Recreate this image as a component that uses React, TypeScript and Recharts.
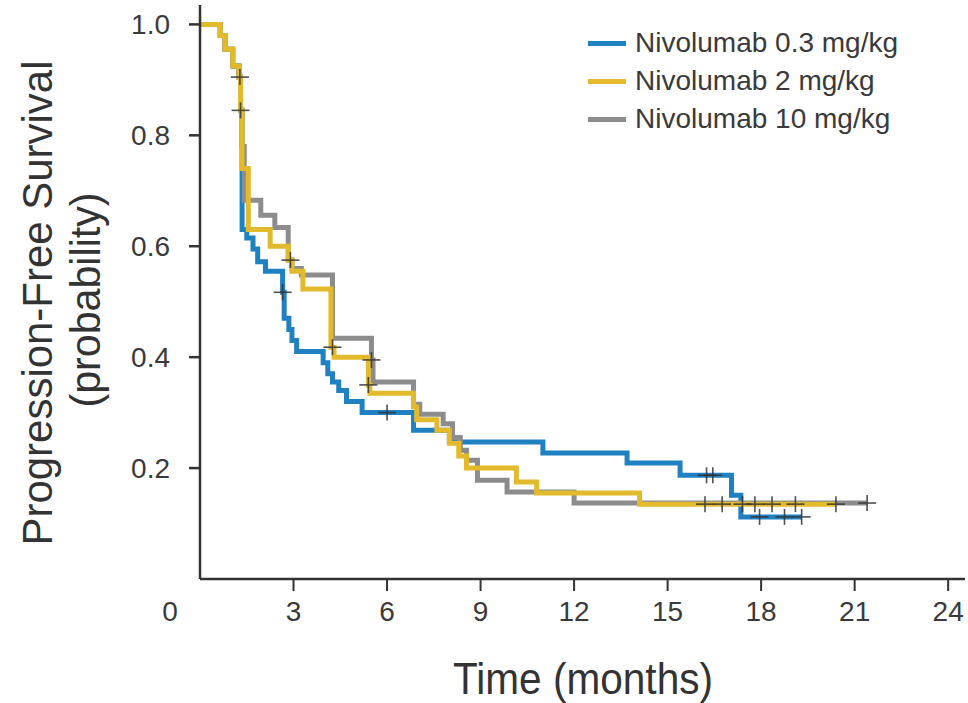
import React from "react";
import {
  ComposedChart,
  Line,
  Scatter,
  XAxis,
  YAxis,
  Legend,
} from "recharts";

// Kaplan-Meier steps: [month, probability]
const pfs03: [number, number][] = [
  [0, 1], [0.65, 0.98], [0.8, 0.955], [1.05, 0.925], [1.25, 0.905], [1.3, 0.845],
  [1.35, 0.63], [1.5, 0.615], [1.7, 0.595], [1.85, 0.572], [2.1, 0.555], [2.65, 0.517],
  [2.7, 0.47], [2.85, 0.45], [2.95, 0.43], [3.1, 0.41], [3.95, 0.39], [4.1, 0.37],
  [4.25, 0.355], [4.45, 0.34], [4.7, 0.32], [5.2, 0.3], [6.85, 0.268], [8.0, 0.247],
  [11.0, 0.227], [13.7, 0.209], [15.4, 0.187], [17.05, 0.151], [17.35, 0.112], [19.3, 0.112],
];
const pfs2: [number, number][] = [
  [0, 1], [0.65, 0.98], [0.8, 0.955], [1.05, 0.925], [1.25, 0.905], [1.3, 0.845],
  [1.35, 0.74], [1.55, 0.63], [2.25, 0.6], [2.83, 0.575], [2.95, 0.555], [3.3, 0.523],
  [4.2, 0.418], [4.3, 0.4], [5.4, 0.35], [5.45, 0.335], [6.85, 0.31], [6.95, 0.287],
  [7.6, 0.268], [8.0, 0.245], [8.3, 0.222], [8.55, 0.2], [10.15, 0.175], [10.8, 0.155],
  [14.1, 0.135], [20.4, 0.135],
];
const pfs10: [number, number][] = [
  [0, 1], [0.65, 0.98], [0.8, 0.955], [1.05, 0.925], [1.25, 0.905], [1.3, 0.845],
  [1.35, 0.78], [1.42, 0.683], [1.95, 0.656], [2.4, 0.634], [2.83, 0.575], [2.95, 0.56],
  [3.25, 0.548], [4.25, 0.434], [5.5, 0.395], [5.55, 0.355], [6.85, 0.315], [7.05, 0.297],
  [7.8, 0.28], [8.1, 0.255], [8.35, 0.232], [8.55, 0.214], [8.9, 0.178], [9.85, 0.157],
  [12.0, 0.137], [21.4, 0.137],
];

// censored observations (tick marks)
const cens03: [number, number][] = [
  [2.65, 0.517], [6.0, 0.3], [16.25, 0.187], [16.45, 0.187], [17.95, 0.112], [18.75, 0.112], [19.3, 0.112],
];
const cens2: [number, number][] = [
  [1.28, 0.905], [1.3, 0.845], [4.25, 0.418], [5.4, 0.35], [16.2, 0.135], [16.75, 0.135],
  [17.4, 0.135], [17.8, 0.135], [18.35, 0.135], [19.1, 0.135], [20.4, 0.135],
];
const cens10: [number, number][] = [[2.9, 0.575], [5.5, 0.395], [21.4, 0.137]];

const seriesNames = ["Nivolumab 0.3 mg/kg", "Nivolumab 2 mg/kg", "Nivolumab 10 mg/kg"];
const xTicks = [0, 3, 6, 9, 12, 15, 18, 21, 24];
const yTicks = [0.2, 0.4, 0.6, 0.8, 1.0];

const BLUE = "#1f80c2";
const GOLD = "#e2ba2c";
const GRAY = "#8c8c8c";
const colors = [BLUE, GOLD, GRAY];
const FONT = "'Liberation Sans', Arial, sans-serif";
const TXT = "#3a3a3a";

const toPts = (arr: [number, number][]) => arr.map(([m, p]) => ({ m, p }));
const censorPts = toPts([...cens03, ...cens2, ...cens10]);

const Cross = (props: any) => {
  const { cx, cy } = props;
  if (cx == null || cy == null) return null;
  return (
    <g stroke="#333" strokeWidth={1.6} opacity={0.85}>
      <line x1={cx} x2={cx} y1={cy - 8} y2={cy + 8} />
      <line x1={cx - 9} x2={cx + 9} y1={cy} y2={cy} />
    </g>
  );
};

// x tick: no tick line at the origin, "0" pushed left of the corner
const XTick = (props: any) => {
  const { x, y, payload } = props;
  const isZero = payload.value === 0;
  return (
    <g>
      {!isZero && <line x1={x} x2={x} y1={y - 22} y2={y - 10} stroke="#333" strokeWidth={2} />}
      <text x={isZero ? x - 30 : x} y={y} dy="0.71em" textAnchor="middle" fontSize={28} fill={TXT} fontFamily={FONT}>
        {payload.value}
      </text>
    </g>
  );
};

const XTitle = () => (
  <text x={583} y={694} textAnchor="middle" fontSize={44} fill="#333" fontFamily={FONT}
    textLength={260} lengthAdjust="spacingAndGlyphs">
    Time (months)
  </text>
);

const YTitle = () => (
  <g fill="#333" fontFamily={FONT} fontSize={42}>
    <text x={52} y={303} textAnchor="middle" transform="rotate(-90 52 303)"
      textLength={485} lengthAdjust="spacingAndGlyphs">
      Progression-Free Survival
    </text>
    <text x={100} y={300} textAnchor="middle" transform="rotate(-90 100 300)"
      textLength={215} lengthAdjust="spacingAndGlyphs">
      (probability)
    </text>
  </g>
);

const LegendBox = () => (
  <div style={{ fontFamily: FONT }}>
    {seriesNames.map((n, i) => (
      <div key={n} style={{ display: "flex", alignItems: "center", height: 38 }}>
        <div style={{ width: 38, height: 5, background: colors[i], marginRight: 9 }} />
        <span style={{ fontSize: 28, color: TXT, whiteSpace: "nowrap" }}>{n}</span>
      </div>
    ))}
  </div>
);

export default function App() {
  return (
    <div style={{ position: "absolute", left: 0, top: 0, width: 968, height: 703, background: "#fff" }}>
      <ComposedChart width={968} height={703} margin={{ top: 5, right: 3, bottom: 64, left: 100 }}>
        <XAxis
          type="number"
          dataKey="m"
          domain={[0, 24.54]}
          ticks={xTicks}
          allowDataOverflow
          stroke="#333"
          strokeWidth={2.5}
          tickSize={12}
          tickMargin={10}
          tickLine={false}
          tick={<XTick />}
          height={60}
          label={{ content: XTitle }}
        />
        <YAxis
          type="number"
          domain={[0, 1.035]}
          ticks={yTicks}
          allowDataOverflow
          width={100}
          stroke="#333"
          strokeWidth={2.5}
          tickSize={11}
          tickMargin={19}
          tick={{ fill: TXT, fontSize: 28, fontFamily: FONT }}
          tickFormatter={(v: number) => v.toFixed(1)}
          label={{ content: YTitle }}
        />
        <Line data={toPts(pfs03)} dataKey="p" type="stepAfter" stroke={BLUE} strokeWidth={5}
          dot={false} activeDot={false} isAnimationActive={false} />
        <Line data={toPts(pfs10)} dataKey="p" type="stepAfter" stroke={GRAY} strokeWidth={5}
          dot={false} activeDot={false} isAnimationActive={false} />
        <Line data={toPts(pfs2)} dataKey="p" type="stepAfter" stroke={GOLD} strokeWidth={5}
          dot={false} activeDot={false} isAnimationActive={false} />
        <Scatter data={censorPts} dataKey="p" shape={Cross} isAnimationActive={false} />
        <Legend
          layout="horizontal"
          align="center"
          verticalAlign="middle"
          content={LegendBox}
          wrapperStyle={{ top: 24, left: 588, width: 360 }}
        />
      </ComposedChart>
    </div>
  );
}
